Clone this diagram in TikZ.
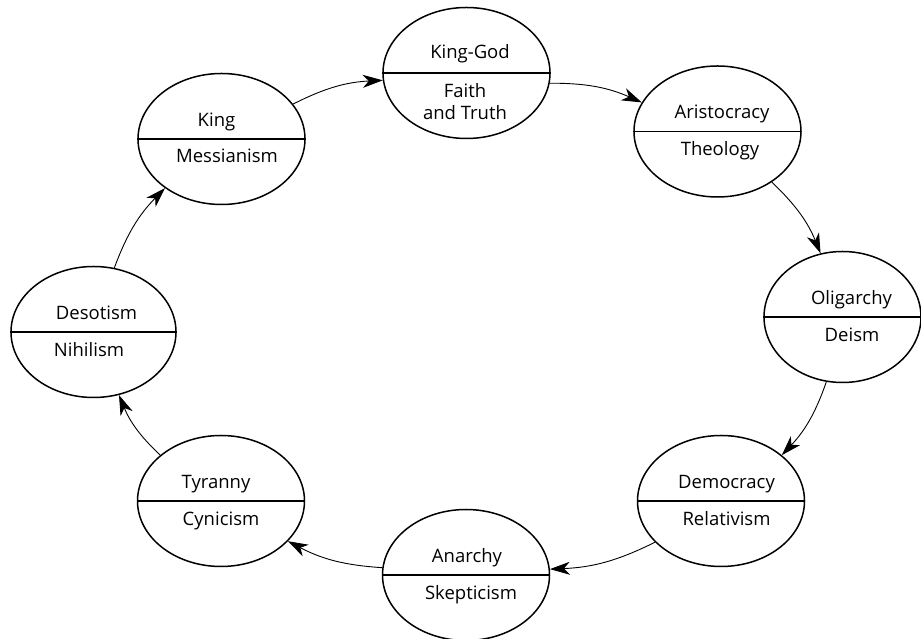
\documentclass[tikz,border=0pt]{standalone}
\usepackage{fontspec}
\setmainfont{Open Sans}
\usetikzlibrary{shapes.geometric,arrows.meta}
\tikzset{
  oval/.style={draw, ellipse, line width=1.5pt, minimum width=167pt, minimum height=131pt, inner sep=0pt},
  divider/.style={line width=1.5pt},
  lbl/.style={anchor=base, inner sep=0pt, font=\fontsize{18.5}{20}\selectfont},
  conn/.style={line width=0.9pt, -{Stealth[length=20pt, width=13pt, inset=6pt]}, bend left=12},
}
\begin{document}
\begin{tikzpicture}[x=1pt,y=1pt]
\useasboundingbox (0,0) rectangle (921,639);
% ellipses
\node[oval] (kg) at (466.5,566) {};
\node[oval] (ki) at (221.5,500) {};
\node[oval] (ar) at (717.5,507.5) {};
\node[oval, minimum width=157pt] (ol) at (842.5,322) {};
\node[oval] (de) at (721,138) {};
\node[oval] (an) at (466,64) {};
\node[oval] (ty) at (221,138) {};
\node[oval, minimum width=165pt] (ds) at (93.5,307) {};
% dividers
\foreach \n in {kg,ki,ar,ol,de,an,ty,ds} \draw[divider] (\n.west) -- (\n.east);
% texts
\node[lbl] (kgt) at ([xshift=3.5pt,yshift=14pt]kg.center) {King-God};
\node[lbl] (kgb1) at ([xshift=-1.5pt,yshift=-25pt]kg.center) {Faith};
\node[lbl] (kgb2) at ([xshift=-1.5pt,yshift=-47pt]kg.center) {and Truth};
\node[lbl] (kit) at ([xshift=-5pt,yshift=12.5pt]ki.center) {King};
\node[lbl] (kib) at ([xshift=5.5pt,yshift=-24pt]ki.center) {Messianism};
\node[lbl] (art) at ([xshift=4.5pt,yshift=12.5pt]ar.center) {Aristocracy};
\node[lbl] (arb) at ([xshift=2.5pt,yshift=-24.5pt]ar.center) {Theology};
\node[lbl] (olt) at ([xshift=9pt,yshift=12.5pt]ol.center) {Oligarchy};
\node[lbl] (olb) at ([xshift=9.5pt,yshift=-24.5pt]ol.center) {Deism};
\node[lbl] (det) at ([xshift=5.5pt,yshift=12.5pt]de.center) {Democracy};
\node[lbl] (deb) at ([xshift=5.5pt,yshift=-24.5pt]de.center) {Relativism};
\node[lbl] (ant) at ([xshift=1pt,yshift=12.5pt]an.center) {Anarchy};
\node[lbl] (anb) at ([xshift=5pt,yshift=-24.5pt]an.center) {Skepticism};
\node[lbl] (tyt) at ([xshift=-5pt,yshift=12.5pt]ty.center) {Tyranny};
\node[lbl] (tyb) at ([xshift=0pt,yshift=-24.5pt]ty.center) {Cynicism};
\node[lbl] (dst) at ([xshift=3pt,yshift=12.5pt]ds.center) {Desotism};
\node[lbl] (dsb) at ([xshift=-4.5pt,yshift=-24.5pt]ds.center) {Nihilism};
% connectors
\draw[conn] (ki.26) to (kg.185);
\draw[conn] (kg.353) to (ar.159);
\draw[conn] (ar.317) to (ol.109);
\draw[conn] (ol.256) to (de.37);
\draw[conn] (de.212) to (an.4);
\draw[conn] (an.175) to (ty.329);
\draw[conn] (ty.143) to (ds.292);
\draw[conn] (ds.72) to (ki.221);
\end{tikzpicture}
\end{document}
